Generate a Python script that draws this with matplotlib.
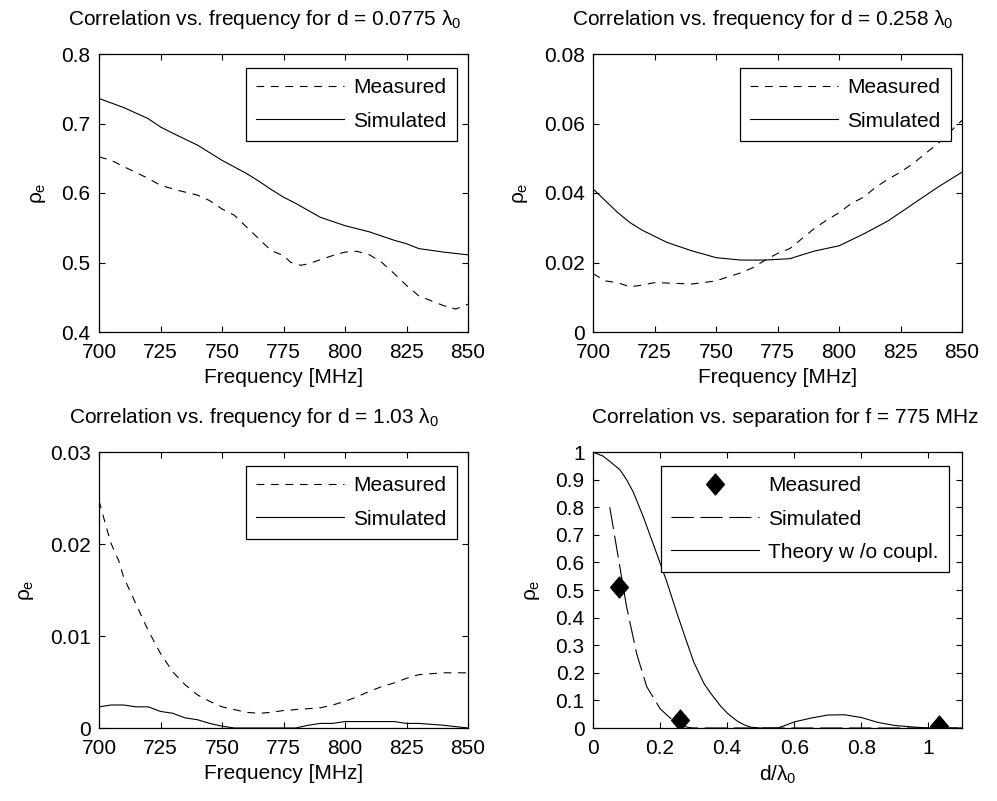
import numpy as np
import matplotlib.pyplot as plt
from matplotlib.path import Path

plt.rcParams['font.family'] = ['Liberation Sans', 'DejaVu Sans']
plt.rcParams['mathtext.fontset'] = 'custom'
plt.rcParams['mathtext.rm'] = 'Liberation Sans'
plt.rcParams['mathtext.it'] = 'Liberation Sans'
plt.rcParams['font.size'] = 15

## d = 0.0775 lambda0
f_a_meas = [700, 705, 710, 720, 725, 733, 740, 745, 750, 755, 760, 765, 770, 775, 778,
            782, 785, 790, 795, 800, 805, 810, 815, 820, 825, 830, 835, 840, 845, 850]
rho_a_meas = [0.652, 0.647, 0.638, 0.621, 0.611, 0.603, 0.597, 0.589, 0.577, 0.568, 0.551,
              0.534, 0.517, 0.510, 0.500, 0.496, 0.498, 0.504, 0.510, 0.515, 0.516, 0.511,
              0.500, 0.484, 0.467, 0.452, 0.445, 0.438, 0.433, 0.440]
f_a_sim = [700, 710, 720, 725, 730, 740, 750, 760, 765, 770, 775, 780, 790, 800, 810,
           820, 825, 830, 840, 850]
rho_a_sim = [0.736, 0.723, 0.707, 0.695, 0.686, 0.669, 0.647, 0.628, 0.617, 0.605, 0.594,
             0.585, 0.565, 0.553, 0.544, 0.532, 0.527, 0.520, 0.515, 0.511]

## d = 0.258 lambda0
f_b_meas = [700, 705, 710, 715, 720, 725, 730, 740, 750, 755, 760, 765, 770, 775, 780,
            785, 790, 795, 800, 805, 810, 815, 820, 825, 830, 835, 840, 845, 850]
rho_b_meas = [0.0168, 0.0147, 0.0142, 0.0130, 0.0135, 0.0142, 0.0141, 0.0138, 0.0147,
              0.0159, 0.0170, 0.0185, 0.0207, 0.0226, 0.0240, 0.0269, 0.0298, 0.0322,
              0.0343, 0.0370, 0.0388, 0.0417, 0.0440, 0.0460, 0.0484, 0.0513, 0.0541,
              0.0575, 0.0609]
f_b_sim = [700, 705, 710, 715, 720, 730, 740, 750, 760, 770, 780, 790, 800, 810, 820,
           830, 840, 850]
rho_b_sim = [0.0412, 0.0378, 0.0344, 0.0315, 0.0293, 0.0258, 0.0234, 0.0214, 0.0207,
             0.0207, 0.0211, 0.0233, 0.0248, 0.0282, 0.0320, 0.0368, 0.0416, 0.0460]

## d = 1.03 lambda0
f_c_meas = [700, 703, 705, 708, 710, 715, 720, 725, 730, 735, 740, 745, 750, 755, 760,
            765, 770, 775, 780, 785, 790, 795, 800, 805, 810, 815, 820, 825, 830, 835,
            840, 850]
rho_c_meas = [0.0247, 0.0218, 0.0200, 0.0182, 0.0164, 0.0135, 0.0106, 0.0081, 0.0061,
              0.0047, 0.0036, 0.0029, 0.0023, 0.0020, 0.0017, 0.0016, 0.0017, 0.0019,
              0.0020, 0.0021, 0.0022, 0.0025, 0.0029, 0.0034, 0.0040, 0.0045, 0.0049,
              0.0054, 0.0058, 0.0059, 0.0060, 0.0060]
f_c_sim = [700, 705, 710, 715, 720, 725, 730, 735, 740, 745, 750, 755, 770, 780, 785,
           790, 795, 800, 810, 820, 825, 830, 840, 850]
rho_c_sim = [0.0023, 0.0025, 0.0025, 0.0023, 0.0023, 0.0018, 0.0016, 0.0011, 0.0009,
             0.0005, 0.0002, 0.0, 0.0, 0.0, 0.0003, 0.0005, 0.0005, 0.0007, 0.0007,
             0.0007, 0.0005, 0.0005, 0.0003, 0.0]

## separation at 775 MHz
d_meas = [0.0775, 0.258, 1.03]
rho_d_meas = [0.51, 0.03, 0.006]
d_sim = [0.05, 0.075, 0.10, 0.13, 0.16, 0.20, 0.24, 0.28, 0.30, 0.50, 0.70, 0.90, 1.10]
rho_d_sim = [0.80, 0.62, 0.44, 0.27, 0.15, 0.07, 0.025, 0.003, 0.0, 0.0, 0.0, 0.0, 0.0]
d_theory = [0.0, 0.03, 0.05, 0.08, 0.10, 0.12, 0.15, 0.18, 0.20, 0.22, 0.25, 0.28,
            0.30, 0.33, 0.35, 0.38, 0.40, 0.43, 0.45, 0.47, 0.50, 0.55, 0.57, 0.60,
            0.65, 0.70, 0.75, 0.80, 0.85, 0.90, 0.95, 1.00, 1.10]
rho_theory = [1.0, 0.985, 0.966, 0.936, 0.90, 0.855, 0.765, 0.665, 0.598, 0.53, 0.417,
              0.31, 0.24, 0.163, 0.127, 0.08, 0.054, 0.025, 0.012, 0.003, 0.0, 0.0,
              0.008, 0.022, 0.036, 0.047, 0.048, 0.038, 0.02, 0.009, 0.004, 0.0, 0.0]

freq_ticks = [700, 725, 750, 775, 800, 825, 850]
freq_labels = [str(t) for t in freq_ticks]
dash = (0, (7, 6))

diamond = Path([(0, 1), (0.85, 0), (0, -1), (-0.85, 0), (0, 1)],
               [Path.MOVETO, Path.LINETO, Path.LINETO, Path.LINETO, Path.CLOSEPOLY])

fig = plt.figure(figsize=(9.97, 8.01), dpi=100)
W, H = 997, 801


def make_axes(x0, y0, x1, y1):
    ## pixel box (top-left origin) -> figure fraction
    return fig.add_axes([x0 / W, 1 - y1 / H, (x1 - x0) / W, (y1 - y0) / H])


def style(ax, xlim, ylim, xticks, xlabels, yticks, ylabels):
    ax.set_xlim(xlim)
    ax.set_ylim(ylim)
    ax.set_xticks(xticks)
    ax.set_xticklabels(xlabels)
    ax.set_yticks(yticks)
    ax.set_yticklabels(ylabels)
    ax.tick_params(direction='in', length=4, width=0.8, top=True, right=True,
                   labelsize=15)
    ax.tick_params(axis='y', pad=6)
    ax.tick_params(axis='x', pad=8)
    for s in ax.spines.values():
        s.set_linewidth(0.9)
    ax.set_ylabel(r'$\rho_e$', fontsize=15, labelpad=10)


def legend(ax, handles, labels, w, h):
    leg = ax.legend(handles, labels, loc='upper right', bbox_to_anchor=(1 - w, 1 - h),
                    borderaxespad=0, fancybox=False, framealpha=1, edgecolor='black',
                    handlelength=4.2, handletextpad=0.45, labelspacing=0.68,
                    borderpad=0.5, fontsize=15)
    leg.get_frame().set_linewidth(0.9)
    return leg


ax1 = make_axes(99, 54, 468, 332)
m1, = ax1.plot(f_a_meas, rho_a_meas, color='black', lw=0.8, ls=dash)
s1, = ax1.plot(f_a_sim, rho_a_sim, color='black', lw=0.8)
style(ax1, (700, 850), (0.4, 0.8), freq_ticks, freq_labels,
      [0.4, 0.5, 0.6, 0.7, 0.8], ['0.4', '0.5', '0.6', '0.7', '0.8'])
ax1.set_xlabel('Frequency [MHz]', fontsize=15, labelpad=4)
ax1.set_title(r'Correlation vs. frequency for d = 0.0775 $\lambda_0$', fontsize=15,
              pad=21, x=0.45)
legend(ax1, [m1, s1], ['Measured', 'Simulated'], 11 / 369, 14 / 278)

ax2 = make_axes(593, 54, 962, 332)
m2, = ax2.plot(f_b_meas, rho_b_meas, color='black', lw=0.8, ls=dash)
s2, = ax2.plot(f_b_sim, rho_b_sim, color='black', lw=0.8)
style(ax2, (700, 850), (0, 0.08), freq_ticks, freq_labels,
      [0, 0.02, 0.04, 0.06, 0.08], ['0', '0.02', '0.04', '0.06', '0.08'])
ax2.set_xlabel('Frequency [MHz]', fontsize=15, labelpad=4)
ax2.set_title(r'Correlation vs. frequency for d = 0.258 $\lambda_0$', fontsize=15,
              pad=21, x=0.46)
legend(ax2, [m2, s2], ['Measured', 'Simulated'], 11 / 369, 14 / 278)

ax3 = make_axes(99, 452, 468, 728)
m3, = ax3.plot(f_c_meas, rho_c_meas, color='black', lw=0.8, ls=dash)
s3, = ax3.plot(f_c_sim, rho_c_sim, color='black', lw=0.8)
style(ax3, (700, 850), (0, 0.03), freq_ticks, freq_labels,
      [0, 0.01, 0.02, 0.03], ['0', '0.01', '0.02', '0.03'])
ax3.set_xlabel('Frequency [MHz]', fontsize=15, labelpad=4)
ax3.set_title(r'Correlation vs. frequency for d = 1.03 $\lambda_0$', fontsize=15,
              pad=21, x=0.42)
legend(ax3, [m3, s3], ['Measured', 'Simulated'], 11 / 369, 14 / 276)

ax4 = make_axes(593, 452, 962, 728)
m4, = ax4.plot(d_meas, rho_d_meas, ls='none', marker=diamond, markersize=15,
               color='black')
s4, = ax4.plot(d_sim, rho_d_sim, color='black', lw=0.8, ls=(0, (20, 6)))
t4, = ax4.plot(d_theory, rho_theory, color='black', lw=0.8)
style(ax4, (0, 1.1), (0, 1), [0, 0.2, 0.4, 0.6, 0.8, 1.0],
      ['0', '0.2', '0.4', '0.6', '0.8', '1'],
      np.round(np.arange(0, 1.01, 0.1), 1),
      ['0', '0.1', '0.2', '0.3', '0.4', '0.5', '0.6', '0.7', '0.8', '0.9', '1'])
ax4.set_xlabel(r'd/$\lambda_0$', fontsize=15, labelpad=4)
ax4.set_title('Correlation vs. separation for f = 775 MHz', fontsize=15,
              pad=21, x=0.52)
legend(ax4, [m4, s4, t4], ['Measured', 'Simulated', 'Theory w /o coupl.'],
       13 / 369, 14 / 276)

fig.savefig('out.png', dpi=100)
